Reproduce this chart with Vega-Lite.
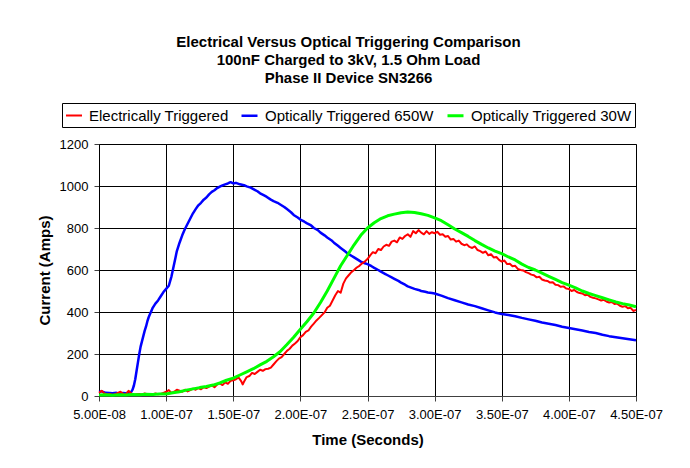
{
  "$schema": "https://vega.github.io/schema/vega-lite/v6.json",
  "width": 537,
  "height": 252,
  "autosize": "none",
  "padding": {"left": 99, "top": 144, "right": 54, "bottom": 72},
  "background": "white",
  "title": {
    "text": ["Electrical Versus Optical Triggering Comparison", "100nF Charged to 3kV, 1.5 Ohm Load", "Phase II Device SN3266"],
    "font": "Liberation Sans",
    "fontSize": 15,
    "fontWeight": "bold",
    "lineHeight": 18,
    "color": "black",
    "anchor": "middle",
    "dx": -19,
    "offset": 17
  },
  "config": {
    "font": "Liberation Sans",
    "view": {"stroke": "#808080", "strokeWidth": 1},
    "axis": {
      "labelFont": "Liberation Sans",
      "labelFontSize": 13,
      "labelColor": "black",
      "titleFont": "Liberation Sans",
      "titleFontSize": 15,
      "titleFontWeight": "bold",
      "titleColor": "black",
      "gridColor": "black",
      "gridOpacity": 1,
      "gridWidth": 1,
      "domainColor": "#404040",
      "tickColor": "#404040",
      "tickSize": 5
    }
  },
  "data": {
    "values": [
      {"series": "Optically Triggered 650W", "t": 50, "I": 20},
      {"series": "Optically Triggered 650W", "t": 52, "I": 22},
      {"series": "Optically Triggered 650W", "t": 55, "I": 15},
      {"series": "Optically Triggered 650W", "t": 58, "I": 14},
      {"series": "Optically Triggered 650W", "t": 60, "I": 13},
      {"series": "Optically Triggered 650W", "t": 63, "I": 15},
      {"series": "Optically Triggered 650W", "t": 65, "I": 12},
      {"series": "Optically Triggered 650W", "t": 68, "I": 14},
      {"series": "Optically Triggered 650W", "t": 70, "I": 13},
      {"series": "Optically Triggered 650W", "t": 72, "I": 15},
      {"series": "Optically Triggered 650W", "t": 74, "I": 20},
      {"series": "Optically Triggered 650W", "t": 75, "I": 30},
      {"series": "Optically Triggered 650W", "t": 76, "I": 50},
      {"series": "Optically Triggered 650W", "t": 77, "I": 80},
      {"series": "Optically Triggered 650W", "t": 78, "I": 120},
      {"series": "Optically Triggered 650W", "t": 79, "I": 160},
      {"series": "Optically Triggered 650W", "t": 80, "I": 200},
      {"series": "Optically Triggered 650W", "t": 81, "I": 235},
      {"series": "Optically Triggered 650W", "t": 82, "I": 260},
      {"series": "Optically Triggered 650W", "t": 83, "I": 285},
      {"series": "Optically Triggered 650W", "t": 84, "I": 310},
      {"series": "Optically Triggered 650W", "t": 85, "I": 330},
      {"series": "Optically Triggered 650W", "t": 86, "I": 355},
      {"series": "Optically Triggered 650W", "t": 87, "I": 375},
      {"series": "Optically Triggered 650W", "t": 88, "I": 390},
      {"series": "Optically Triggered 650W", "t": 89, "I": 405},
      {"series": "Optically Triggered 650W", "t": 90, "I": 420},
      {"series": "Optically Triggered 650W", "t": 92, "I": 440},
      {"series": "Optically Triggered 650W", "t": 94, "I": 455},
      {"series": "Optically Triggered 650W", "t": 96, "I": 475},
      {"series": "Optically Triggered 650W", "t": 98, "I": 495},
      {"series": "Optically Triggered 650W", "t": 100, "I": 510},
      {"series": "Optically Triggered 650W", "t": 102, "I": 525},
      {"series": "Optically Triggered 650W", "t": 104, "I": 570},
      {"series": "Optically Triggered 650W", "t": 105, "I": 600},
      {"series": "Optically Triggered 650W", "t": 106, "I": 630},
      {"series": "Optically Triggered 650W", "t": 107, "I": 660},
      {"series": "Optically Triggered 650W", "t": 108, "I": 690},
      {"series": "Optically Triggered 650W", "t": 110, "I": 730},
      {"series": "Optically Triggered 650W", "t": 112, "I": 765},
      {"series": "Optically Triggered 650W", "t": 114, "I": 795},
      {"series": "Optically Triggered 650W", "t": 116, "I": 820},
      {"series": "Optically Triggered 650W", "t": 118, "I": 845},
      {"series": "Optically Triggered 650W", "t": 120, "I": 870},
      {"series": "Optically Triggered 650W", "t": 122, "I": 890},
      {"series": "Optically Triggered 650W", "t": 124, "I": 908},
      {"series": "Optically Triggered 650W", "t": 126, "I": 920},
      {"series": "Optically Triggered 650W", "t": 128, "I": 935},
      {"series": "Optically Triggered 650W", "t": 130, "I": 945},
      {"series": "Optically Triggered 650W", "t": 132, "I": 960},
      {"series": "Optically Triggered 650W", "t": 134, "I": 972},
      {"series": "Optically Triggered 650W", "t": 136, "I": 980},
      {"series": "Optically Triggered 650W", "t": 138, "I": 990},
      {"series": "Optically Triggered 650W", "t": 140, "I": 997},
      {"series": "Optically Triggered 650W", "t": 142, "I": 1003},
      {"series": "Optically Triggered 650W", "t": 144, "I": 1008},
      {"series": "Optically Triggered 650W", "t": 146, "I": 1012},
      {"series": "Optically Triggered 650W", "t": 148, "I": 1018},
      {"series": "Optically Triggered 650W", "t": 150, "I": 1012},
      {"series": "Optically Triggered 650W", "t": 152, "I": 1015},
      {"series": "Optically Triggered 650W", "t": 155, "I": 1008},
      {"series": "Optically Triggered 650W", "t": 158, "I": 1004},
      {"series": "Optically Triggered 650W", "t": 160, "I": 998},
      {"series": "Optically Triggered 650W", "t": 163, "I": 992},
      {"series": "Optically Triggered 650W", "t": 165, "I": 985},
      {"series": "Optically Triggered 650W", "t": 168, "I": 975},
      {"series": "Optically Triggered 650W", "t": 170, "I": 965},
      {"series": "Optically Triggered 650W", "t": 173, "I": 955},
      {"series": "Optically Triggered 650W", "t": 175, "I": 948},
      {"series": "Optically Triggered 650W", "t": 178, "I": 935},
      {"series": "Optically Triggered 650W", "t": 180, "I": 928},
      {"series": "Optically Triggered 650W", "t": 183, "I": 920},
      {"series": "Optically Triggered 650W", "t": 185, "I": 912},
      {"series": "Optically Triggered 650W", "t": 188, "I": 900},
      {"series": "Optically Triggered 650W", "t": 190, "I": 890},
      {"series": "Optically Triggered 650W", "t": 193, "I": 875},
      {"series": "Optically Triggered 650W", "t": 195, "I": 862},
      {"series": "Optically Triggered 650W", "t": 198, "I": 850},
      {"series": "Optically Triggered 650W", "t": 200, "I": 840},
      {"series": "Optically Triggered 650W", "t": 203, "I": 830},
      {"series": "Optically Triggered 650W", "t": 205, "I": 822},
      {"series": "Optically Triggered 650W", "t": 208, "I": 812},
      {"series": "Optically Triggered 650W", "t": 210, "I": 800},
      {"series": "Optically Triggered 650W", "t": 213, "I": 790},
      {"series": "Optically Triggered 650W", "t": 215, "I": 778},
      {"series": "Optically Triggered 650W", "t": 218, "I": 765},
      {"series": "Optically Triggered 650W", "t": 220, "I": 755},
      {"series": "Optically Triggered 650W", "t": 223, "I": 742},
      {"series": "Optically Triggered 650W", "t": 225, "I": 730},
      {"series": "Optically Triggered 650W", "t": 228, "I": 715},
      {"series": "Optically Triggered 650W", "t": 230, "I": 705},
      {"series": "Optically Triggered 650W", "t": 233, "I": 690},
      {"series": "Optically Triggered 650W", "t": 235, "I": 680},
      {"series": "Optically Triggered 650W", "t": 238, "I": 668},
      {"series": "Optically Triggered 650W", "t": 240, "I": 660},
      {"series": "Optically Triggered 650W", "t": 243, "I": 648},
      {"series": "Optically Triggered 650W", "t": 245, "I": 640},
      {"series": "Optically Triggered 650W", "t": 248, "I": 632},
      {"series": "Optically Triggered 650W", "t": 250, "I": 628},
      {"series": "Optically Triggered 650W", "t": 253, "I": 618},
      {"series": "Optically Triggered 650W", "t": 255, "I": 610},
      {"series": "Optically Triggered 650W", "t": 258, "I": 600},
      {"series": "Optically Triggered 650W", "t": 260, "I": 592},
      {"series": "Optically Triggered 650W", "t": 263, "I": 582},
      {"series": "Optically Triggered 650W", "t": 265, "I": 575},
      {"series": "Optically Triggered 650W", "t": 268, "I": 565},
      {"series": "Optically Triggered 650W", "t": 270, "I": 558},
      {"series": "Optically Triggered 650W", "t": 273, "I": 548},
      {"series": "Optically Triggered 650W", "t": 275, "I": 540},
      {"series": "Optically Triggered 650W", "t": 278, "I": 530},
      {"series": "Optically Triggered 650W", "t": 280, "I": 522},
      {"series": "Optically Triggered 650W", "t": 283, "I": 515},
      {"series": "Optically Triggered 650W", "t": 285, "I": 510},
      {"series": "Optically Triggered 650W", "t": 288, "I": 505},
      {"series": "Optically Triggered 650W", "t": 290, "I": 500},
      {"series": "Optically Triggered 650W", "t": 293, "I": 496},
      {"series": "Optically Triggered 650W", "t": 295, "I": 493},
      {"series": "Optically Triggered 650W", "t": 298, "I": 490},
      {"series": "Optically Triggered 650W", "t": 300, "I": 488},
      {"series": "Optically Triggered 650W", "t": 305, "I": 478},
      {"series": "Optically Triggered 650W", "t": 310, "I": 466},
      {"series": "Optically Triggered 650W", "t": 315, "I": 456},
      {"series": "Optically Triggered 650W", "t": 320, "I": 446},
      {"series": "Optically Triggered 650W", "t": 325, "I": 436},
      {"series": "Optically Triggered 650W", "t": 330, "I": 428},
      {"series": "Optically Triggered 650W", "t": 335, "I": 418},
      {"series": "Optically Triggered 650W", "t": 340, "I": 408},
      {"series": "Optically Triggered 650W", "t": 345, "I": 398},
      {"series": "Optically Triggered 650W", "t": 350, "I": 390},
      {"series": "Optically Triggered 650W", "t": 355, "I": 386},
      {"series": "Optically Triggered 650W", "t": 360, "I": 380},
      {"series": "Optically Triggered 650W", "t": 365, "I": 372},
      {"series": "Optically Triggered 650W", "t": 370, "I": 365},
      {"series": "Optically Triggered 650W", "t": 375, "I": 358},
      {"series": "Optically Triggered 650W", "t": 380, "I": 350},
      {"series": "Optically Triggered 650W", "t": 385, "I": 344},
      {"series": "Optically Triggered 650W", "t": 390, "I": 338},
      {"series": "Optically Triggered 650W", "t": 395, "I": 330},
      {"series": "Optically Triggered 650W", "t": 400, "I": 324},
      {"series": "Optically Triggered 650W", "t": 405, "I": 318},
      {"series": "Optically Triggered 650W", "t": 410, "I": 312},
      {"series": "Optically Triggered 650W", "t": 415, "I": 305},
      {"series": "Optically Triggered 650W", "t": 420, "I": 300},
      {"series": "Optically Triggered 650W", "t": 425, "I": 292},
      {"series": "Optically Triggered 650W", "t": 430, "I": 285},
      {"series": "Optically Triggered 650W", "t": 435, "I": 280},
      {"series": "Optically Triggered 650W", "t": 440, "I": 275},
      {"series": "Optically Triggered 650W", "t": 445, "I": 270},
      {"series": "Optically Triggered 650W", "t": 450, "I": 265},

      {"series": "Electrically Triggered", "t": 50, "I": 15},
      {"series": "Electrically Triggered", "t": 52, "I": 25},
      {"series": "Electrically Triggered", "t": 54, "I": 12},
      {"series": "Electrically Triggered", "t": 56, "I": 8},
      {"series": "Electrically Triggered", "t": 58, "I": 10},
      {"series": "Electrically Triggered", "t": 60, "I": 5},
      {"series": "Electrically Triggered", "t": 62, "I": 8},
      {"series": "Electrically Triggered", "t": 64, "I": 15},
      {"series": "Electrically Triggered", "t": 66, "I": 20},
      {"series": "Electrically Triggered", "t": 68, "I": 10},
      {"series": "Electrically Triggered", "t": 70, "I": 8},
      {"series": "Electrically Triggered", "t": 72, "I": 25},
      {"series": "Electrically Triggered", "t": 74, "I": 12},
      {"series": "Electrically Triggered", "t": 76, "I": 5},
      {"series": "Electrically Triggered", "t": 78, "I": 8},
      {"series": "Electrically Triggered", "t": 80, "I": 10},
      {"series": "Electrically Triggered", "t": 82, "I": 6},
      {"series": "Electrically Triggered", "t": 84, "I": 12},
      {"series": "Electrically Triggered", "t": 86, "I": 8},
      {"series": "Electrically Triggered", "t": 88, "I": 10},
      {"series": "Electrically Triggered", "t": 90, "I": 6},
      {"series": "Electrically Triggered", "t": 92, "I": 12},
      {"series": "Electrically Triggered", "t": 94, "I": 8},
      {"series": "Electrically Triggered", "t": 96, "I": 10},
      {"series": "Electrically Triggered", "t": 98, "I": 15},
      {"series": "Electrically Triggered", "t": 100, "I": 20},
      {"series": "Electrically Triggered", "t": 102, "I": 28},
      {"series": "Electrically Triggered", "t": 104, "I": 15},
      {"series": "Electrically Triggered", "t": 106, "I": 20},
      {"series": "Electrically Triggered", "t": 108, "I": 30},
      {"series": "Electrically Triggered", "t": 110, "I": 25},
      {"series": "Electrically Triggered", "t": 112, "I": 20},
      {"series": "Electrically Triggered", "t": 114, "I": 30},
      {"series": "Electrically Triggered", "t": 116, "I": 22},
      {"series": "Electrically Triggered", "t": 118, "I": 28},
      {"series": "Electrically Triggered", "t": 120, "I": 35},
      {"series": "Electrically Triggered", "t": 122, "I": 30},
      {"series": "Electrically Triggered", "t": 124, "I": 38},
      {"series": "Electrically Triggered", "t": 126, "I": 32},
      {"series": "Electrically Triggered", "t": 128, "I": 42},
      {"series": "Electrically Triggered", "t": 130, "I": 38},
      {"series": "Electrically Triggered", "t": 132, "I": 45},
      {"series": "Electrically Triggered", "t": 134, "I": 50},
      {"series": "Electrically Triggered", "t": 136, "I": 42},
      {"series": "Electrically Triggered", "t": 138, "I": 55},
      {"series": "Electrically Triggered", "t": 140, "I": 60},
      {"series": "Electrically Triggered", "t": 142, "I": 52},
      {"series": "Electrically Triggered", "t": 144, "I": 65},
      {"series": "Electrically Triggered", "t": 146, "I": 58},
      {"series": "Electrically Triggered", "t": 148, "I": 72},
      {"series": "Electrically Triggered", "t": 150, "I": 75},
      {"series": "Electrically Triggered", "t": 152, "I": 80},
      {"series": "Electrically Triggered", "t": 154, "I": 88},
      {"series": "Electrically Triggered", "t": 156, "I": 70},
      {"series": "Electrically Triggered", "t": 157, "I": 55},
      {"series": "Electrically Triggered", "t": 158, "I": 68},
      {"series": "Electrically Triggered", "t": 160, "I": 90},
      {"series": "Electrically Triggered", "t": 162, "I": 95},
      {"series": "Electrically Triggered", "t": 164, "I": 110},
      {"series": "Electrically Triggered", "t": 166, "I": 105},
      {"series": "Electrically Triggered", "t": 168, "I": 115},
      {"series": "Electrically Triggered", "t": 170, "I": 125},
      {"series": "Electrically Triggered", "t": 172, "I": 120},
      {"series": "Electrically Triggered", "t": 174, "I": 128},
      {"series": "Electrically Triggered", "t": 176, "I": 130},
      {"series": "Electrically Triggered", "t": 178, "I": 135},
      {"series": "Electrically Triggered", "t": 180, "I": 150},
      {"series": "Electrically Triggered", "t": 182, "I": 165},
      {"series": "Electrically Triggered", "t": 184, "I": 178},
      {"series": "Electrically Triggered", "t": 186, "I": 185},
      {"series": "Electrically Triggered", "t": 188, "I": 200},
      {"series": "Electrically Triggered", "t": 190, "I": 215},
      {"series": "Electrically Triggered", "t": 192, "I": 225},
      {"series": "Electrically Triggered", "t": 194, "I": 240},
      {"series": "Electrically Triggered", "t": 196, "I": 250},
      {"series": "Electrically Triggered", "t": 198, "I": 262},
      {"series": "Electrically Triggered", "t": 200, "I": 280},
      {"series": "Electrically Triggered", "t": 202, "I": 290},
      {"series": "Electrically Triggered", "t": 204, "I": 305},
      {"series": "Electrically Triggered", "t": 206, "I": 312},
      {"series": "Electrically Triggered", "t": 208, "I": 330},
      {"series": "Electrically Triggered", "t": 210, "I": 345},
      {"series": "Electrically Triggered", "t": 212, "I": 360},
      {"series": "Electrically Triggered", "t": 214, "I": 372},
      {"series": "Electrically Triggered", "t": 216, "I": 385},
      {"series": "Electrically Triggered", "t": 218, "I": 398},
      {"series": "Electrically Triggered", "t": 220, "I": 420},
      {"series": "Electrically Triggered", "t": 222, "I": 430},
      {"series": "Electrically Triggered", "t": 224, "I": 455},
      {"series": "Electrically Triggered", "t": 226, "I": 480},
      {"series": "Electrically Triggered", "t": 228, "I": 500},
      {"series": "Electrically Triggered", "t": 230, "I": 492},
      {"series": "Electrically Triggered", "t": 232, "I": 535},
      {"series": "Electrically Triggered", "t": 234, "I": 560},
      {"series": "Electrically Triggered", "t": 236, "I": 575},
      {"series": "Electrically Triggered", "t": 238, "I": 590},
      {"series": "Electrically Triggered", "t": 240, "I": 600},
      {"series": "Electrically Triggered", "t": 242, "I": 612},
      {"series": "Electrically Triggered", "t": 244, "I": 620},
      {"series": "Electrically Triggered", "t": 246, "I": 632},
      {"series": "Electrically Triggered", "t": 248, "I": 640},
      {"series": "Electrically Triggered", "t": 250, "I": 652},
      {"series": "Electrically Triggered", "t": 252, "I": 670},
      {"series": "Electrically Triggered", "t": 254, "I": 685},
      {"series": "Electrically Triggered", "t": 256, "I": 680},
      {"series": "Electrically Triggered", "t": 258, "I": 700},
      {"series": "Electrically Triggered", "t": 260, "I": 695},
      {"series": "Electrically Triggered", "t": 262, "I": 712},
      {"series": "Electrically Triggered", "t": 264, "I": 720},
      {"series": "Electrically Triggered", "t": 266, "I": 715},
      {"series": "Electrically Triggered", "t": 268, "I": 735},
      {"series": "Electrically Triggered", "t": 270, "I": 740},
      {"series": "Electrically Triggered", "t": 272, "I": 732},
      {"series": "Electrically Triggered", "t": 274, "I": 755},
      {"series": "Electrically Triggered", "t": 276, "I": 748},
      {"series": "Electrically Triggered", "t": 278, "I": 762},
      {"series": "Electrically Triggered", "t": 280, "I": 770},
      {"series": "Electrically Triggered", "t": 282, "I": 758},
      {"series": "Electrically Triggered", "t": 284, "I": 785},
      {"series": "Electrically Triggered", "t": 286, "I": 775},
      {"series": "Electrically Triggered", "t": 288, "I": 790},
      {"series": "Electrically Triggered", "t": 290, "I": 778},
      {"series": "Electrically Triggered", "t": 292, "I": 770},
      {"series": "Electrically Triggered", "t": 294, "I": 785},
      {"series": "Electrically Triggered", "t": 296, "I": 772},
      {"series": "Electrically Triggered", "t": 298, "I": 780},
      {"series": "Electrically Triggered", "t": 300, "I": 775},
      {"series": "Electrically Triggered", "t": 302, "I": 782},
      {"series": "Electrically Triggered", "t": 304, "I": 768},
      {"series": "Electrically Triggered", "t": 306, "I": 770},
      {"series": "Electrically Triggered", "t": 308, "I": 758},
      {"series": "Electrically Triggered", "t": 310, "I": 762},
      {"series": "Electrically Triggered", "t": 312, "I": 745},
      {"series": "Electrically Triggered", "t": 314, "I": 748},
      {"series": "Electrically Triggered", "t": 316, "I": 735},
      {"series": "Electrically Triggered", "t": 318, "I": 740},
      {"series": "Electrically Triggered", "t": 320, "I": 725},
      {"series": "Electrically Triggered", "t": 322, "I": 718},
      {"series": "Electrically Triggered", "t": 324, "I": 722},
      {"series": "Electrically Triggered", "t": 326, "I": 710},
      {"series": "Electrically Triggered", "t": 328, "I": 705},
      {"series": "Electrically Triggered", "t": 330, "I": 712},
      {"series": "Electrically Triggered", "t": 332, "I": 695},
      {"series": "Electrically Triggered", "t": 334, "I": 690},
      {"series": "Electrically Triggered", "t": 336, "I": 682},
      {"series": "Electrically Triggered", "t": 338, "I": 688},
      {"series": "Electrically Triggered", "t": 340, "I": 670},
      {"series": "Electrically Triggered", "t": 342, "I": 675},
      {"series": "Electrically Triggered", "t": 344, "I": 660},
      {"series": "Electrically Triggered", "t": 346, "I": 662},
      {"series": "Electrically Triggered", "t": 348, "I": 648},
      {"series": "Electrically Triggered", "t": 350, "I": 640},
      {"series": "Electrically Triggered", "t": 352, "I": 645},
      {"series": "Electrically Triggered", "t": 354, "I": 628},
      {"series": "Electrically Triggered", "t": 356, "I": 630},
      {"series": "Electrically Triggered", "t": 358, "I": 618},
      {"series": "Electrically Triggered", "t": 360, "I": 620},
      {"series": "Electrically Triggered", "t": 362, "I": 605},
      {"series": "Electrically Triggered", "t": 364, "I": 600},
      {"series": "Electrically Triggered", "t": 366, "I": 598},
      {"series": "Electrically Triggered", "t": 368, "I": 590},
      {"series": "Electrically Triggered", "t": 370, "I": 585},
      {"series": "Electrically Triggered", "t": 372, "I": 578},
      {"series": "Electrically Triggered", "t": 374, "I": 575},
      {"series": "Electrically Triggered", "t": 376, "I": 565},
      {"series": "Electrically Triggered", "t": 378, "I": 568},
      {"series": "Electrically Triggered", "t": 380, "I": 555},
      {"series": "Electrically Triggered", "t": 382, "I": 550},
      {"series": "Electrically Triggered", "t": 384, "I": 548},
      {"series": "Electrically Triggered", "t": 386, "I": 540},
      {"series": "Electrically Triggered", "t": 388, "I": 542},
      {"series": "Electrically Triggered", "t": 390, "I": 530},
      {"series": "Electrically Triggered", "t": 392, "I": 528},
      {"series": "Electrically Triggered", "t": 394, "I": 520},
      {"series": "Electrically Triggered", "t": 396, "I": 522},
      {"series": "Electrically Triggered", "t": 398, "I": 512},
      {"series": "Electrically Triggered", "t": 400, "I": 510},
      {"series": "Electrically Triggered", "t": 402, "I": 500},
      {"series": "Electrically Triggered", "t": 404, "I": 505},
      {"series": "Electrically Triggered", "t": 406, "I": 495},
      {"series": "Electrically Triggered", "t": 408, "I": 490},
      {"series": "Electrically Triggered", "t": 410, "I": 488},
      {"series": "Electrically Triggered", "t": 412, "I": 480},
      {"series": "Electrically Triggered", "t": 414, "I": 482},
      {"series": "Electrically Triggered", "t": 416, "I": 472},
      {"series": "Electrically Triggered", "t": 418, "I": 468},
      {"series": "Electrically Triggered", "t": 420, "I": 465},
      {"series": "Electrically Triggered", "t": 422, "I": 460},
      {"series": "Electrically Triggered", "t": 424, "I": 455},
      {"series": "Electrically Triggered", "t": 426, "I": 458},
      {"series": "Electrically Triggered", "t": 428, "I": 450},
      {"series": "Electrically Triggered", "t": 430, "I": 445},
      {"series": "Electrically Triggered", "t": 432, "I": 448},
      {"series": "Electrically Triggered", "t": 434, "I": 438},
      {"series": "Electrically Triggered", "t": 436, "I": 440},
      {"series": "Electrically Triggered", "t": 438, "I": 430},
      {"series": "Electrically Triggered", "t": 440, "I": 425},
      {"series": "Electrically Triggered", "t": 442, "I": 428},
      {"series": "Electrically Triggered", "t": 444, "I": 418},
      {"series": "Electrically Triggered", "t": 446, "I": 420},
      {"series": "Electrically Triggered", "t": 448, "I": 405},
      {"series": "Electrically Triggered", "t": 450, "I": 410},

      {"series": "Optically Triggered 30W", "t": 50, "I": 5},
      {"series": "Optically Triggered 30W", "t": 55, "I": 6},
      {"series": "Optically Triggered 30W", "t": 60, "I": 4},
      {"series": "Optically Triggered 30W", "t": 65, "I": 6},
      {"series": "Optically Triggered 30W", "t": 70, "I": 5},
      {"series": "Optically Triggered 30W", "t": 75, "I": 7},
      {"series": "Optically Triggered 30W", "t": 80, "I": 6},
      {"series": "Optically Triggered 30W", "t": 85, "I": 8},
      {"series": "Optically Triggered 30W", "t": 90, "I": 7},
      {"series": "Optically Triggered 30W", "t": 95, "I": 9},
      {"series": "Optically Triggered 30W", "t": 100, "I": 10},
      {"series": "Optically Triggered 30W", "t": 105, "I": 15},
      {"series": "Optically Triggered 30W", "t": 110, "I": 20},
      {"series": "Optically Triggered 30W", "t": 115, "I": 28},
      {"series": "Optically Triggered 30W", "t": 120, "I": 34},
      {"series": "Optically Triggered 30W", "t": 125, "I": 40},
      {"series": "Optically Triggered 30W", "t": 130, "I": 45},
      {"series": "Optically Triggered 30W", "t": 135, "I": 52},
      {"series": "Optically Triggered 30W", "t": 140, "I": 62},
      {"series": "Optically Triggered 30W", "t": 145, "I": 75},
      {"series": "Optically Triggered 30W", "t": 150, "I": 85},
      {"series": "Optically Triggered 30W", "t": 155, "I": 100},
      {"series": "Optically Triggered 30W", "t": 160, "I": 115},
      {"series": "Optically Triggered 30W", "t": 165, "I": 130},
      {"series": "Optically Triggered 30W", "t": 170, "I": 148},
      {"series": "Optically Triggered 30W", "t": 175, "I": 165},
      {"series": "Optically Triggered 30W", "t": 180, "I": 187},
      {"series": "Optically Triggered 30W", "t": 185, "I": 212},
      {"series": "Optically Triggered 30W", "t": 190, "I": 245},
      {"series": "Optically Triggered 30W", "t": 195, "I": 280},
      {"series": "Optically Triggered 30W", "t": 200, "I": 318},
      {"series": "Optically Triggered 30W", "t": 205, "I": 355},
      {"series": "Optically Triggered 30W", "t": 210, "I": 395},
      {"series": "Optically Triggered 30W", "t": 215, "I": 445},
      {"series": "Optically Triggered 30W", "t": 220, "I": 500},
      {"series": "Optically Triggered 30W", "t": 225, "I": 560},
      {"series": "Optically Triggered 30W", "t": 230, "I": 620},
      {"series": "Optically Triggered 30W", "t": 235, "I": 670},
      {"series": "Optically Triggered 30W", "t": 240, "I": 720},
      {"series": "Optically Triggered 30W", "t": 245, "I": 765},
      {"series": "Optically Triggered 30W", "t": 250, "I": 800},
      {"series": "Optically Triggered 30W", "t": 255, "I": 825},
      {"series": "Optically Triggered 30W", "t": 260, "I": 845},
      {"series": "Optically Triggered 30W", "t": 265, "I": 858},
      {"series": "Optically Triggered 30W", "t": 270, "I": 866},
      {"series": "Optically Triggered 30W", "t": 275, "I": 873},
      {"series": "Optically Triggered 30W", "t": 280, "I": 876},
      {"series": "Optically Triggered 30W", "t": 285, "I": 874},
      {"series": "Optically Triggered 30W", "t": 290, "I": 868},
      {"series": "Optically Triggered 30W", "t": 295, "I": 860},
      {"series": "Optically Triggered 30W", "t": 300, "I": 848},
      {"series": "Optically Triggered 30W", "t": 305, "I": 835},
      {"series": "Optically Triggered 30W", "t": 310, "I": 815},
      {"series": "Optically Triggered 30W", "t": 315, "I": 795},
      {"series": "Optically Triggered 30W", "t": 320, "I": 778},
      {"series": "Optically Triggered 30W", "t": 325, "I": 760},
      {"series": "Optically Triggered 30W", "t": 330, "I": 740},
      {"series": "Optically Triggered 30W", "t": 335, "I": 722},
      {"series": "Optically Triggered 30W", "t": 340, "I": 705},
      {"series": "Optically Triggered 30W", "t": 345, "I": 690},
      {"series": "Optically Triggered 30W", "t": 350, "I": 678},
      {"series": "Optically Triggered 30W", "t": 355, "I": 662},
      {"series": "Optically Triggered 30W", "t": 360, "I": 648},
      {"series": "Optically Triggered 30W", "t": 365, "I": 628},
      {"series": "Optically Triggered 30W", "t": 370, "I": 612},
      {"series": "Optically Triggered 30W", "t": 375, "I": 600},
      {"series": "Optically Triggered 30W", "t": 380, "I": 585},
      {"series": "Optically Triggered 30W", "t": 385, "I": 570},
      {"series": "Optically Triggered 30W", "t": 390, "I": 555},
      {"series": "Optically Triggered 30W", "t": 395, "I": 540},
      {"series": "Optically Triggered 30W", "t": 400, "I": 528},
      {"series": "Optically Triggered 30W", "t": 405, "I": 515},
      {"series": "Optically Triggered 30W", "t": 410, "I": 500},
      {"series": "Optically Triggered 30W", "t": 415, "I": 488},
      {"series": "Optically Triggered 30W", "t": 420, "I": 478},
      {"series": "Optically Triggered 30W", "t": 425, "I": 468},
      {"series": "Optically Triggered 30W", "t": 430, "I": 458},
      {"series": "Optically Triggered 30W", "t": 435, "I": 448},
      {"series": "Optically Triggered 30W", "t": 440, "I": 440},
      {"series": "Optically Triggered 30W", "t": 445, "I": 433},
      {"series": "Optically Triggered 30W", "t": 450, "I": 425}
    ]
  },
  "mark": {"type": "line", "strokeJoin": "round"},
  "encoding": {
    "x": {
      "field": "t",
      "type": "quantitative",
      "scale": {"domain": [50, 450], "nice": false, "zero": false},
      "axis": {
        "title": "Time (Seconds)",
        "values": [50, 100, 150, 200, 250, 300, 350, 400, 450],
        "labelExpr": "replace(upper(format(datum.value * 1e-9, '.2e')), regexp('E-([0-9])$'), 'E-0$1')",
        "labelPadding": 7,
        "labelFlush": false,
        "titlePadding": 11,
        "grid": true
      }
    },
    "y": {
      "field": "I",
      "type": "quantitative",
      "scale": {"domain": [0, 1200], "nice": false},
      "axis": {
        "title": "Current (Amps)",
        "values": [0, 200, 400, 600, 800, 1000, 1200],
        "format": "d",
        "labelPadding": 6,
        "titlePadding": 7,
        "grid": true,
        "domainColor": "black"
      }
    },
    "color": {
      "field": "series",
      "type": "nominal",
      "scale": {
        "domain": ["Electrically Triggered", "Optically Triggered 650W", "Optically Triggered 30W"],
        "range": ["#ff0000", "#0000ff", "#00ff00"]
      },
      "legend": {
        "title": null,
        "orient": "none",
        "direction": "horizontal",
        "legendX": -37,
        "legendY": -41,
        "symbolType": "stroke",
        "symbolSize": 256,
        "symbolStrokeWidth": 3,
        "labelFont": "Liberation Sans",
        "labelFontSize": 15,
        "labelColor": "black",
        "labelOffset": 6,
        "columnPadding": 7,
        "padding": 3,
        "strokeColor": "black",
        "fillColor": "white",
        "labelLimit": 300
      }
    },
    "strokeWidth": {
      "field": "series",
      "type": "nominal",
      "scale": {
        "domain": ["Electrically Triggered", "Optically Triggered 650W", "Optically Triggered 30W"],
        "range": [2, 3, 3]
      },
      "legend": null
    }
  }
}
